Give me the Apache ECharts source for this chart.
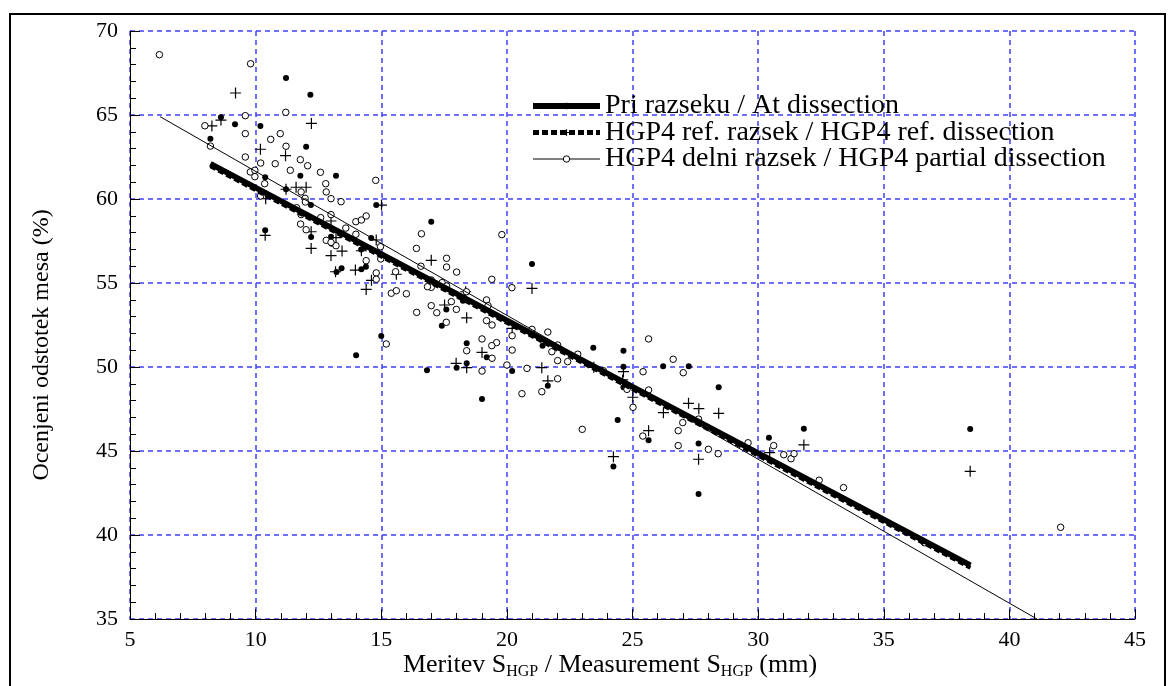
<!DOCTYPE html>
<html>
<head>
<meta charset="utf-8">
<script src="https://cdn.jsdelivr.net/npm/echarts@6/dist/echarts.min.js"></script>
<style>
  html, body { margin: 0; padding: 0; background: #fff; }
  #chart { width: 1173px; height: 686px; }
</style>
</head>
<body>
<div id="chart"></div>
<script>
// ---- Data ----
const seriesNames = [
  'Pri razseku / At dissection',
  'HGP4 ref. razsek / HGP4 ref. dissection',
  'HGP4 delni razsek / HGP4 partial dissection'
];

// Regression lines (end points)
const lineAtDissection = [[8.2, 62.1], [38.45, 38.2]];
const lineRefDissection = [[8.2, 61.95], [38.45, 38.05]];
const linePartialDissection = [[6.2, 64.9], [41.1, 35.0]];

// Points: at dissection (filled circles)
const pointsAtDissection = [
  [11.21,67.20],[12.18,66.21],[8.62,64.86],[9.18,64.45],[10.19,64.35],[8.20,63.59],
  [12.01,63.11],[13.20,61.39],[11.78,61.39],[10.38,61.29],[11.21,60.58],[12.2,59.64],
  [10.38,58.14],[13.0,57.76],[13.03,57.34],[12.21,57.74],[14.80,59.64],[13.42,55.88],
  [13.22,55.65],[14.60,57.68],[14.39,55.97],[14.21,55.82],[16.99,58.65],[18.25,53.95],
  [21.0,56.13],[17.59,53.43],[17.41,52.46],[15.0,51.85],[14.0,50.70],[16.82,49.80],
  [18.0,49.96],[18.40,50.22],[18.40,51.41],[19.20,50.58],[19.01,48.10],[20.21,49.76],
  [21.42,51.27],[21.63,48.89],[23.44,51.15],[24.64,50.97],[24.64,50.02],[24.64,48.79],
  [24.41,46.85],[24.24,44.07],[26.22,50.04],[27.24,50.04],[28.43,48.79],[25.64,45.64],
  [27.63,45.44],[27.63,42.44],[30.43,45.79],[31.82,46.33],[38.44,46.31],[14.2,57.0]
];

// Points: HGP4 reference dissection (plus signs)
const pointsRefDissection = [
  [9.20,66.31],[12.22,64.5],[8.62,64.7],[8.26,64.35],[10.19,62.96],[11.19,62.58],
  [11.21,60.58],[11.61,60.70],[12.01,60.70],[10.40,60.02],[13.0,58.69],[12.21,58.05],
  [10.38,57.84],[12.21,57.06],[13.0,56.63],[13.2,57.7],[15.01,59.64],[13.44,56.90],
  [13.18,55.67],[14.80,57.56],[14.21,56.92],[13.97,55.77],[14.61,55.16],[14.40,54.62],
  [15.60,55.52],[16.99,56.35],[21.0,54.68],[18.36,54.48],[17.52,53.69],[18.40,52.93],
  [17.98,50.22],[18.40,49.96],[19.01,50.87],[20.21,52.3],[21.39,49.96],[21.63,49.18],
  [23.46,49.98],[24.64,49.72],[24.61,49.23],[25.01,48.20],[24.24,44.66],[25.64,46.21],
  [26.23,47.28],[27.23,47.84],[27.64,47.52],[28.43,47.24],[27.63,44.51],[30.46,44.90],
  [31.82,45.36],[38.44,43.79]
];

// Points: HGP4 partial dissection (open circles)
const pointsPartialDissection = [
  [6.17,68.59],[9.80,68.05],[11.20,65.16],[9.59,64.96],[7.98,64.36],[9.59,63.89],
  [8.20,63.15],[10.60,63.55],[10.98,63.89],[11.21,63.14],[9.59,62.5],[11.78,62.34],
  [10.78,62.10],[10.20,62.14],[12.07,61.98],[11.38,61.71],[12.58,61.59],[9.79,61.61],
  [9.97,61.71],[9.97,61.33],[10.36,60.91],[12.79,60.91],[14.78,61.11],[11.81,60.42],
  [12.81,60.42],[11.97,60.04],[13.0,60.02],[10.20,60.18],[11.98,59.82],[11.63,59.48],
  [11.81,59.07],[12.59,58.89],[13.0,59.07],[11.79,58.51],[12.01,58.17],[12.81,57.54],
  [13.2,57.22],[13.40,59.84],[13.0,57.42],[13.59,58.27],[13.99,57.9],[13.99,58.65],
  [14.21,58.75],[14.40,58.99],[14.97,57.16],[14.40,56.33],[14.98,56.43],[14.80,55.60],
  [14.80,55.22],[15.40,54.39],[15.60,54.54],[16.0,54.36],[15.57,55.67],[16.40,57.06],
  [16.60,57.93],[16.58,56.0],[17.60,56.47],[17.60,55.95],[18.0,55.65],[16.99,55.18],
  [17.42,55.02],[17.60,54.82],[16.99,54.74],[16.84,54.78],[19.40,55.22],[19.80,57.88],
  [20.20,54.72],[18.39,54.48],[17.79,53.89],[17.99,53.43],[17.21,53.23],[16.99,53.65],
  [17.59,52.66],[16.41,53.25],[19.19,53.99],[19.25,53.65],[19.19,52.76],[19.41,52.5],
  [19.59,51.45],[19.40,51.27],[19.01,51.67],[15.2,51.37],[18.40,50.97],[19.41,50.52],
  [19.01,49.76],[20.21,51.86],[20.21,51.01],[20.0,50.12],[20.80,49.92],[20.60,48.41],
  [21.39,48.53],[22.02,49.30],[21.0,52.24],[21.63,52.08],[21.79,50.91],[22.02,51.31],
  [22.02,50.38],[22.42,50.32],[22.82,50.76],[23.84,49.78],[24.78,48.67],[25.02,47.60],
  [23.0,46.29],[25.42,49.72],[25.64,51.67],[25.64,48.63],[26.62,50.46],[27.02,49.66],
  [27.63,46.90],[27.0,46.69],[26.82,46.21],[26.82,45.32],[25.41,45.89],[28.02,45.10],
  [28.41,44.84],[29.6,45.49],[30.62,45.32],[31.02,44.78],[31.31,44.54],[31.43,44.84],
  [32.43,43.26],[33.40,42.82],[36.62,39.54],[42.04,40.46]
];

// Axes
const xMin = 5, xMax = 45, xStep = 5;
const yMin = 35, yMax = 70, yStep = 5;
const xTitleRich = '{n|Meritev S}{s|HGP}{n| / Measurement S}{s|HGP}{n| (mm)}';
const yTitle = 'Ocenjeni odstotek mesa (%)';

// ---- Chart ----
const FONT = "'Liberation Serif', 'Times New Roman', serif";
const plusPath = 'path://M0,5L10,5M5,0L5,10';
const gridBlue = '#4040ff';

const chart = echarts.init(document.getElementById('chart'), null, { renderer: 'canvas' });

function axisBase() {
  return {
    axisLine: { show: true, onZero: false, lineStyle: { color: '#000', width: 1 } },
    axisTick: { show: true, inside: true, length: 10, lineStyle: { color: '#000', width: 1 } },
    minorTick: { show: true, splitNumber: 5, length: 6, lineStyle: { color: '#000', width: 1 } },
    splitLine: { show: true, lineStyle: { color: gridBlue, width: 1.5, type: [5, 4] } }
  };
}

const option = {
  animation: false,
  backgroundColor: '#fff',
  textStyle: { fontFamily: FONT },
  graphic: [{
    type: 'rect', z: -10, silent: true,
    shape: { x: 10, y: 14, width: 1155, height: 700 },
    style: { fill: 'none', stroke: '#000', lineWidth: 2 }
  }],
  grid: { left: 130, right: 38, top: 31, bottom: 67, containLabel: false, outerBoundsMode: 'none' },
  legend: {
    orient: 'vertical',
    left: 530, top: 92, padding: 0,
    itemWidth: 67, itemHeight: 8, itemGap: -1.5,
    selectedMode: false,
    textStyle: { fontFamily: FONT, fontSize: 28, color: '#000', lineHeight: 26 },
    data: [
      { name: seriesNames[0], itemStyle: { color: '#000' },
        lineStyle: { color: '#000', width: 6 } },
      { name: seriesNames[1], itemStyle: { color: 'rgba(0,0,0,0)', borderColor: '#000', borderWidth: 1.2 },
        lineStyle: { color: '#000', width: 5, type: [6, 3] } },
      { name: seriesNames[2], itemStyle: { color: '#fff', borderColor: '#000', borderWidth: 1 },
        lineStyle: { color: '#000', width: 1 } }
    ]
  },
  xAxis: Object.assign(axisBase(), {
    type: 'value', min: xMin, max: xMax, interval: xStep,
    axisLabel: { color: '#000', fontFamily: FONT, fontSize: 22, margin: 10 },
    name: xTitleRich,
    nameLocation: 'middle',
    nameGap: 33,
    nameMoveOverlap: false,
    nameTextStyle: {
      padding: [0, 45, 0, 0],
      rich: {
        n: { fontFamily: FONT, fontSize: 26, color: '#000', lineHeight: 28, verticalAlign: 'top', padding: [0, 0, 9, 0] },
        s: { fontFamily: FONT, fontSize: 16, color: '#000', lineHeight: 16, verticalAlign: 'bottom' }
      }
    }
  }),
  yAxis: Object.assign(axisBase(), {
    type: 'value', min: yMin, max: yMax, interval: yStep,
    axisLabel: { color: '#000', fontFamily: FONT, fontSize: 22, margin: 12 },
    name: yTitle,
    nameLocation: 'middle',
    nameGap: 76,
    nameMoveOverlap: false,
    nameTextStyle: { fontFamily: FONT, fontSize: 24, color: '#000', padding: [0, 40, 0, 0] }
  }),
  series: [
    {
      name: seriesNames[0], type: 'line', data: lineAtDissection,
      symbol: 'circle', showSymbol: false, z: 5,
      lineStyle: { color: '#000', width: 5.5 }, itemStyle: { color: '#000' }
    },
    {
      name: seriesNames[1], type: 'line', data: lineRefDissection,
      symbol: plusPath, showSymbol: false, z: 4,
      lineStyle: { color: '#000', width: 4, type: [6, 3] }, itemStyle: { color: '#000' }
    },
    {
      name: seriesNames[2], type: 'line', data: linePartialDissection,
      symbol: 'circle', showSymbol: false, z: 4,
      lineStyle: { color: '#000', width: 1 }, itemStyle: { color: '#000' }
    },
    {
      name: seriesNames[0], type: 'scatter', data: pointsAtDissection,
      symbol: 'circle', symbolSize: 6, z: 3,
      itemStyle: { color: '#000', opacity: 1 }
    },
    {
      name: seriesNames[1], type: 'scatter', data: pointsRefDissection,
      symbol: plusPath, symbolSize: 11, z: 3,
      itemStyle: { color: 'rgba(0,0,0,0)', borderColor: '#000', borderWidth: 1.2, opacity: 1 }
    },
    {
      name: seriesNames[2], type: 'scatter', data: pointsPartialDissection,
      symbol: 'circle', symbolSize: 6.5, z: 3,
      itemStyle: { color: '#fff', borderColor: '#000', borderWidth: 1, opacity: 1 }
    }
  ]
};

chart.setOption(option);
</script>
</body>
</html>
